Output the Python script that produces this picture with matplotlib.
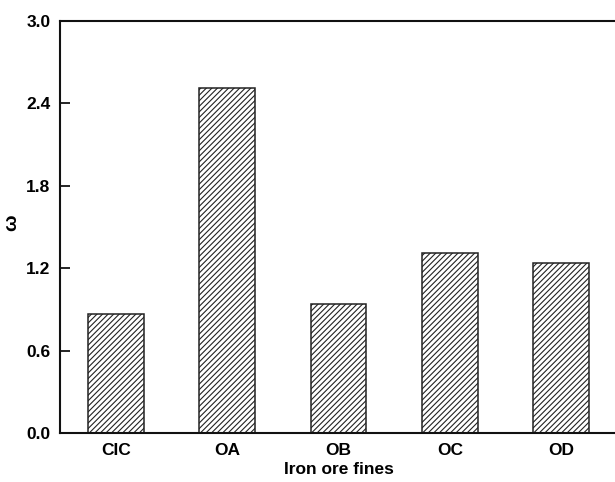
import matplotlib
matplotlib.use('Agg')
import matplotlib.pyplot as plt

plt.rcParams['font.family'] = ['Liberation Sans', 'DejaVu Sans']
plt.rcParams['font.weight'] = 'bold'
plt.rcParams['hatch.linewidth'] = 0.8
plt.rcParams['hatch.color'] = '#333333'

samples = ['CIC', 'OA', 'OB', 'OC', 'OD']
omega = [0.867, 2.515, 0.942, 1.309, 1.236]
yticks = [0.0, 0.6, 1.2, 1.8, 2.4, 3.0]

fig = plt.figure(figsize=(6.15, 4.82), dpi=100)
ax = fig.add_axes([60 / 615, 49 / 482, 557 / 615, 412 / 482])

ax.bar(range(len(samples)), omega, width=0.5, color='white',
       edgecolor='#222222', linewidth=1.1, hatch='//////')

ax.set_xlim(-0.5, 4.5)
ax.set_ylim(0, 3.0)
ax.set_yticks(yticks)
ax.set_yticklabels([f'{t:.1f}' for t in yticks], fontsize=12.5, fontweight='bold')
ax.set_xticks(range(len(samples)))
ax.set_xticklabels(samples, fontsize=12.5, fontweight='bold')
ax.tick_params(axis='y', direction='in', length=7, width=1.2, pad=7)
ax.tick_params(axis='x', length=0, pad=7)

for s in ax.spines.values():
    s.set_linewidth(1.5)
    s.set_color('#111111')

ax.set_xlabel('Iron ore fines', fontsize=12.5, fontweight='bold', labelpad=3)
ax.set_ylabel('ω', fontsize=14, fontweight='bold')
ax.yaxis.set_label_coords(-0.072, 0.51)

fig.savefig('out.png', dpi=100)
